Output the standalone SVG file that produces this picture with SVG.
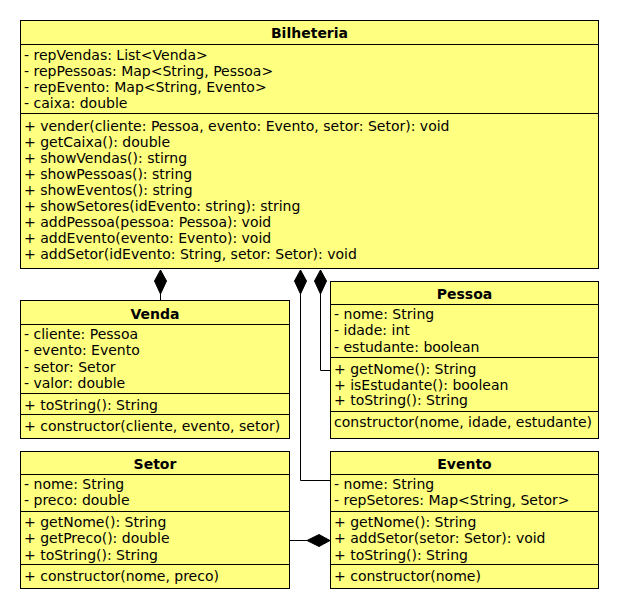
<svg xmlns="http://www.w3.org/2000/svg" width="620" height="610" viewBox="0 0 620 610">
<style>
.box{fill:#FFFF80;stroke:#000;stroke-width:1}
.sep{stroke:#000;stroke-width:1}
.t{font-family:"DejaVu Sans",sans-serif;font-size:14px;fill:#000}
.h{font-family:"DejaVu Sans",sans-serif;font-size:14px;font-weight:bold;fill:#000;text-anchor:middle}
.c{fill:none;stroke:#000;stroke-width:1}
.d{fill:#000;stroke:#000;stroke-width:1}
</style>
<rect width="620" height="610" fill="#fff"/>
<g id="Bilheteria">
<rect class="box" x="20.5" y="20.5" width="578" height="248"/>
<line class="sep" x1="20.5" y1="44.5" x2="598.5" y2="44.5"/>
<line class="sep" x1="20.5" y1="113.5" x2="598.5" y2="113.5"/>
<text class="h" x="309.5" y="38">Bilheteria</text>
<text class="t" x="24" y="59.5">- repVendas: List&lt;Venda&gt;</text>
<text class="t" x="24" y="75.5">- repPessoas: Map&lt;String, Pessoa&gt;</text>
<text class="t" x="24" y="91.5">- repEvento: Map&lt;String, Evento&gt;</text>
<text class="t" x="24" y="107.5">- caixa: double</text>
<text class="t" x="24" y="130.5">+ vender(cliente: Pessoa, evento: Evento, setor: Setor): void</text>
<text class="t" x="24" y="146.5">+ getCaixa(): double</text>
<text class="t" x="24" y="162.5">+ showVendas(): stirng</text>
<text class="t" x="24" y="178.5">+ showPessoas(): string</text>
<text class="t" x="24" y="194.5">+ showEventos(): string</text>
<text class="t" x="24" y="210.5">+ showSetores(idEvento: string): string</text>
<text class="t" x="24" y="226.5">+ addPessoa(pessoa: Pessoa): void</text>
<text class="t" x="24" y="242.5">+ addEvento(evento: Evento): void</text>
<text class="t" x="24" y="258.5">+ addSetor(idEvento: String, setor: Setor): void</text>
</g>
<g id="Venda">
<rect class="box" x="20.5" y="300.5" width="269" height="138"/>
<line class="sep" x1="20.5" y1="324.5" x2="289.5" y2="324.5"/>
<line class="sep" x1="20.5" y1="393.5" x2="289.5" y2="393.5"/>
<line class="sep" x1="20.5" y1="414.5" x2="289.5" y2="414.5"/>
<text class="h" x="155" y="318.5">Venda</text>
<text class="t" x="24" y="338.5">- cliente: Pessoa</text>
<text class="t" x="24" y="355">- evento: Evento</text>
<text class="t" x="24" y="371.5">- setor: Setor</text>
<text class="t" x="24" y="388">- valor: double</text>
<text class="t" x="24" y="409.5">+ toString(): String</text>
<text class="t" x="24" y="430.5">+ constructor(cliente, evento, setor)</text>
</g>
<g id="Pessoa">
<rect class="box" x="330.5" y="281.5" width="268" height="157"/>
<line class="sep" x1="330.5" y1="304.5" x2="598.5" y2="304.5"/>
<line class="sep" x1="330.5" y1="357.5" x2="598.5" y2="357.5"/>
<line class="sep" x1="330.5" y1="411.5" x2="598.5" y2="411.5"/>
<text class="h" x="464.5" y="298.5">Pessoa</text>
<text class="t" x="334" y="318.5">- nome: String</text>
<text class="t" x="334" y="335">- idade: int</text>
<text class="t" x="334" y="351.5">- estudante: boolean</text>
<text class="t" x="334" y="373.5">+ getNome(): String</text>
<text class="t" x="334" y="389.5">+ isEstudante(): boolean</text>
<text class="t" x="334" y="405">+ toString(): String</text>
<text class="t" x="334" y="427">constructor(nome, idade, estudante)</text>
</g>
<g id="Setor">
<rect class="box" x="20.5" y="451.5" width="269" height="137"/>
<line class="sep" x1="20.5" y1="474.5" x2="289.5" y2="474.5"/>
<line class="sep" x1="20.5" y1="511.5" x2="289.5" y2="511.5"/>
<line class="sep" x1="20.5" y1="564.5" x2="289.5" y2="564.5"/>
<text class="h" x="155" y="468.5">Setor</text>
<text class="t" x="24" y="488.5">- nome: String</text>
<text class="t" x="24" y="505">- preco: double</text>
<text class="t" x="24" y="526.5">+ getNome(): String</text>
<text class="t" x="24" y="543">+ getPreco(): double</text>
<text class="t" x="24" y="559.5">+ toString(): String</text>
<text class="t" x="24" y="580.5">+ constructor(nome, preco)</text>
</g>
<g id="Evento">
<rect class="box" x="330.5" y="451.5" width="268" height="137"/>
<line class="sep" x1="330.5" y1="474.5" x2="598.5" y2="474.5"/>
<line class="sep" x1="330.5" y1="511.5" x2="598.5" y2="511.5"/>
<line class="sep" x1="330.5" y1="564.5" x2="598.5" y2="564.5"/>
<text class="h" x="464.5" y="468.5">Evento</text>
<text class="t" x="334" y="488.5">- nome: String</text>
<text class="t" x="334" y="505">- repSetores: Map&lt;String, Setor&gt;</text>
<text class="t" x="334" y="526.5">+ getNome(): String</text>
<text class="t" x="334" y="543">+ addSetor(setor: Setor): void</text>
<text class="t" x="334" y="559.5">+ toString(): String</text>
<text class="t" x="334" y="580.5">+ constructor(nome)</text>
</g>
<g id="connectors">
<path class="c" d="M160.5,294 V300.5"/>
<polygon class="d" points="160.5,270 166.5,281 160.5,294 154.5,281"/>
<path class="c" d="M300.5,294 V480.5 H330.5"/>
<polygon class="d" points="300.5,270 306.5,281 300.5,294 294.5,281"/>
<path class="c" d="M320.5,294 V370.5 H330.5"/>
<polygon class="d" points="320.5,270 326.5,281 320.5,294 314.5,281"/>
<path class="c" d="M289.5,540.5 H307"/>
<polygon class="d" points="330,540.5 319,546.5 307,540.5 319,534.5"/>
</g>
</svg>
